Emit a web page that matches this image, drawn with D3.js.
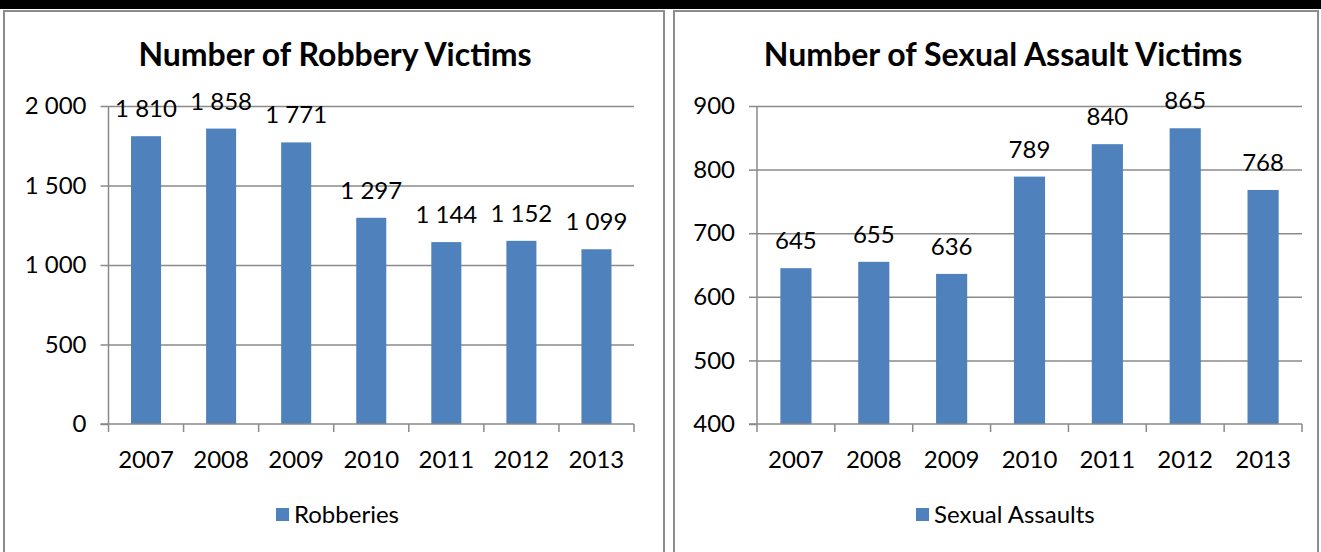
<!DOCTYPE html>
<html>
<head>
<meta charset="utf-8">
<script src="https://cdn.jsdelivr.net/npm/d3@7"></script>
<style>
  html, body { margin: 0; padding: 0; background: #fff; }
  svg { display: block; }
  text { font-family: Lato, "Open Sans", sans-serif; fill: #000; }
</style>
</head>
<body>
<svg id="chart" width="1321" height="552"></svg>
<script>
// Yearly victim counts
const years = ["2007", "2008", "2009", "2010", "2011", "2012", "2013"];
const robberies = [1810, 1858, 1771, 1297, 1144, 1152, 1099];
const sexualAssaults = [645, 655, 636, 789, 840, 865, 768];

const robberyTicks = [0, 500, 1000, 1500, 2000];
const assaultTicks = [400, 500, 600, 700, 800, 900];

const BAR = "#4F81BD";
const GRID = "#8a8a8a";
const FS = "24px";

const fmt = d3.formatLocale({ decimal: ",", thousands: "\u00a0", grouping: [3], currency: ["", ""] }).format(",d");

const svg = d3.select("#chart");

// black rule across the top
svg.append("rect").attr("x", 0).attr("y", 0).attr("width", 1321).attr("height", 9).attr("fill", "#000");

function drawPanel(cfg) {
  const g = svg.append("g");

  // panel frame
  g.append("rect")
    .attr("x", cfg.frame[0]).attr("y", 11)
    .attr("width", cfg.frame[1] - cfg.frame[0]).attr("height", 560)
    .attr("fill", "none").attr("stroke", "#8c8c8c").attr("stroke-width", 2);

  g.append("text")
    .attr("x", cfg.titleX).attr("y", 66)
    .attr("text-anchor", "middle")
    .style("font-weight", "bold").style("font-size", "32px")
    .text(cfg.title);

  const x = d3.scaleBand().domain(years).range([cfg.left, cfg.right]).paddingInner(0.6).paddingOuter(0.3);
  const xb = d3.scaleBand().domain(years).range([cfg.left, cfg.right]);
  const y = d3.scaleLinear().domain(cfg.domain).range([cfg.bottom, cfg.top]);

  // gridlines with left tick marks
  const yAxis = g.append("g")
    .attr("transform", `translate(${cfg.left},0)`)
    .call(d3.axisLeft(y).tickValues(cfg.ticks).tickSize(8).tickPadding(14).tickFormat(fmt));
  yAxis.select(".domain").remove();
  yAxis.selectAll(".tick line").attr("stroke", GRID).attr("stroke-width", 1.5);
  yAxis.selectAll(".tick").filter(d => d !== cfg.domain[0])
    .append("line").attr("x1", 0).attr("x2", cfg.right - cfg.left)
    .attr("stroke", GRID).attr("stroke-width", 1.5);
  yAxis.selectAll(".tick text").style("font-size", FS).style("font-family", "Lato, sans-serif").attr("fill", "#000");

  // vertical axis line
  g.append("line")
    .attr("x1", cfg.left).attr("x2", cfg.left)
    .attr("y1", cfg.top).attr("y2", cfg.bottom)
    .attr("stroke", GRID).attr("stroke-width", 1.5);

  // bars
  g.selectAll("rect.bar").data(cfg.values).join("rect")
    .attr("class", "bar")
    .attr("x", (d, i) => x(years[i]))
    .attr("width", x.bandwidth())
    .attr("y", d => y(d))
    .attr("height", d => cfg.bottom - y(d))
    .attr("fill", BAR);

  // value labels
  g.selectAll("text.val").data(cfg.values).join("text")
    .attr("class", "val")
    .attr("x", (d, i) => xb(years[i]) + xb.bandwidth() / 2)
    .attr("y", d => y(d) - 19)
    .attr("text-anchor", "middle")
    .style("font-size", FS)
    .text(d => fmt(d));

  // category axis with boundary ticks
  const xAxisG = g.append("g").attr("transform", `translate(0,${cfg.bottom})`);
  xAxisG.append("line").attr("x1", cfg.left - 8).attr("x2", cfg.right)
    .attr("stroke", GRID).attr("stroke-width", 1.5);
  const bounds = years.map(yr => xb(yr)).concat([cfg.right]);
  xAxisG.selectAll("line.tk").data(bounds).join("line")
    .attr("class", "tk")
    .attr("x1", d => d).attr("x2", d => d).attr("y1", 0).attr("y2", 8)
    .attr("stroke", GRID).attr("stroke-width", 1.5);
  xAxisG.selectAll("text").data(years).join("text")
    .attr("x", d => xb(d) + xb.bandwidth() / 2)
    .attr("y", 44)
    .attr("text-anchor", "middle")
    .style("font-size", FS)
    .text(d => d);

  // legend
  const lg = g.append("g").attr("transform", `translate(${cfg.legendX},0)`);
  lg.append("rect").attr("x", 0).attr("y", 508).attr("width", 13).attr("height", 13).attr("fill", BAR);
  lg.append("text").attr("x", 18).attr("y", 523).style("font-size", FS).text(cfg.series);
}

drawPanel({
  frame: [4, 664],
  title: "Number of Robbery Victims",
  titleX: 335,
  left: 108.5, right: 634, top: 106, bottom: 424,
  domain: [0, 2000], ticks: robberyTicks,
  values: robberies,
  series: "Robberies",
  legendX: 276
});

drawPanel({
  frame: [674, 1318],
  title: "Number of Sexual Assault Victims",
  titleX: 1003,
  left: 757, right: 1302, top: 106, bottom: 424,
  domain: [400, 900], ticks: assaultTicks,
  values: sexualAssaults,
  series: "Sexual Assaults",
  legendX: 916
});
</script>
</body>
</html>
